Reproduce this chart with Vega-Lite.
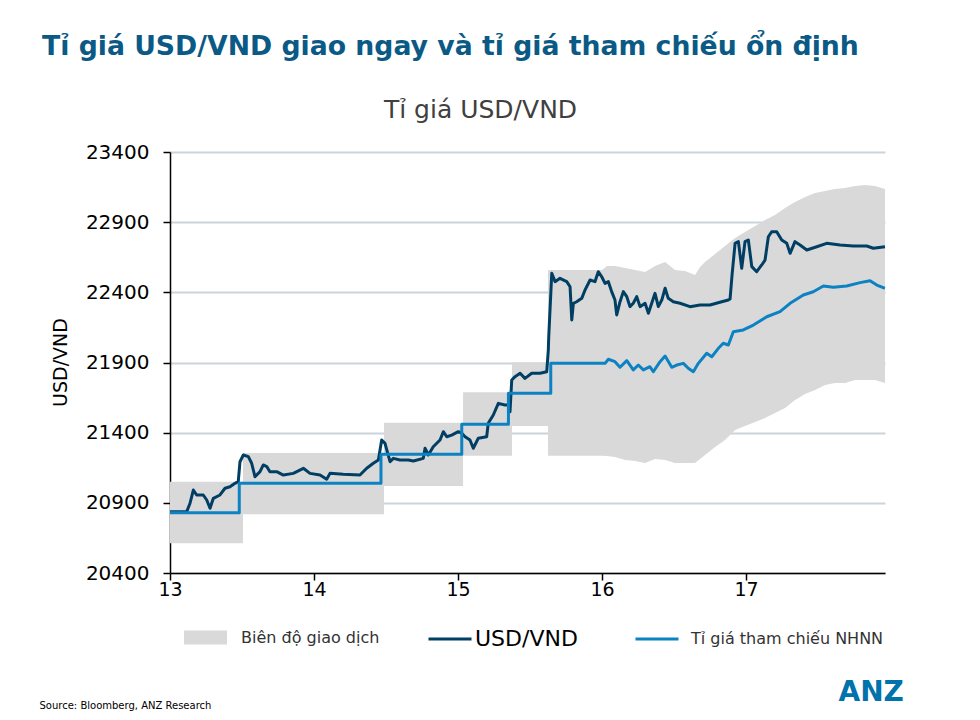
{
  "$schema": "https://vega.github.io/schema/vega-lite/v6.json",
  "width": 715,
  "height": 421,
  "autosize": {"type": "none"},
  "padding": {"left": 170, "top": 152, "right": 95, "bottom": 147},
  "background": "white",
  "title": {
    "text": "Tỉ giá USD/VND giao ngay và tỉ giá tham chiếu ổn định",
    "anchor": "start",
    "frame": "group",
    "dx": -128,
    "dy": -16,
    "fontSize": 26.7,
    "fontWeight": "bold",
    "color": "#0b5a86",
    "font": "DejaVu Sans",
    "offset": 20
  },
  "config": {
    "font": "DejaVu Sans",
    "view": {"stroke": null}
  },
  "datasets": {
    "band": [
      {"x": 13.0, "lo": 20612, "hi": 21051},
      {"x": 13.507, "lo": 20612, "hi": 21051},
      {"x": 13.507, "lo": 20818, "hi": 21255},
      {"x": 14.486, "lo": 20818, "hi": 21255},
      {"x": 14.486, "lo": 21020, "hi": 21471},
      {"x": 15.035, "lo": 21020, "hi": 21471},
      {"x": 15.035, "lo": 21236, "hi": 21688},
      {"x": 15.375, "lo": 21236, "hi": 21688},
      {"x": 15.375, "lo": 21447, "hi": 21901},
      {"x": 15.625, "lo": 21447, "hi": 21901},
      {"x": 15.625, "lo": 21236, "hi": 22559},
      {"x": 16.0, "lo": 21236, "hi": 22559},
      {"x": 16.035, "lo": 21234, "hi": 22588},
      {"x": 16.09, "lo": 21227, "hi": 22588},
      {"x": 16.16, "lo": 21205, "hi": 22573},
      {"x": 16.229, "lo": 21198, "hi": 22559},
      {"x": 16.299, "lo": 21184, "hi": 22545},
      {"x": 16.368, "lo": 21212, "hi": 22588},
      {"x": 16.438, "lo": 21205, "hi": 22616},
      {"x": 16.507, "lo": 21184, "hi": 22559},
      {"x": 16.576, "lo": 21184, "hi": 22552},
      {"x": 16.646, "lo": 21184, "hi": 22523},
      {"x": 16.681, "lo": 21212, "hi": 22580},
      {"x": 16.715, "lo": 21241, "hi": 22616},
      {"x": 16.785, "lo": 21298, "hi": 22673},
      {"x": 16.854, "lo": 21348, "hi": 22730},
      {"x": 16.924, "lo": 21419, "hi": 22787},
      {"x": 16.993, "lo": 21447, "hi": 22830},
      {"x": 17.063, "lo": 21476, "hi": 22873},
      {"x": 17.132, "lo": 21504, "hi": 22915},
      {"x": 17.201, "lo": 21540, "hi": 22951},
      {"x": 17.271, "lo": 21576, "hi": 23001},
      {"x": 17.34, "lo": 21633, "hi": 23044},
      {"x": 17.41, "lo": 21676, "hi": 23079},
      {"x": 17.479, "lo": 21704, "hi": 23108},
      {"x": 17.549, "lo": 21740, "hi": 23122},
      {"x": 17.618, "lo": 21754, "hi": 23136},
      {"x": 17.688, "lo": 21754, "hi": 23143},
      {"x": 17.757, "lo": 21775, "hi": 23158},
      {"x": 17.826, "lo": 21775, "hi": 23165},
      {"x": 17.896, "lo": 21775, "hi": 23158},
      {"x": 17.965, "lo": 21754, "hi": 23136}
    ],
    "ref": [
      {"x": 13.0, "v": 20830}, {"x": 13.481, "v": 20830}, {"x": 13.481, "v": 21039},
      {"x": 14.465, "v": 21039}, {"x": 14.465, "v": 21246}, {"x": 15.026, "v": 21246},
      {"x": 15.026, "v": 21460}, {"x": 15.35, "v": 21460}, {"x": 15.35, "v": 21680},
      {"x": 15.644, "v": 21680}, {"x": 15.644, "v": 21894}, {"x": 16.021, "v": 21894},
      {"x": 16.044, "v": 21923}, {"x": 16.09, "v": 21906}, {"x": 16.125, "v": 21866},
      {"x": 16.172, "v": 21913}, {"x": 16.217, "v": 21847}, {"x": 16.252, "v": 21882},
      {"x": 16.287, "v": 21847}, {"x": 16.333, "v": 21870}, {"x": 16.356, "v": 21834},
      {"x": 16.403, "v": 21906}, {"x": 16.438, "v": 21946}, {"x": 16.484, "v": 21866},
      {"x": 16.519, "v": 21882}, {"x": 16.565, "v": 21894}, {"x": 16.599, "v": 21859},
      {"x": 16.634, "v": 21834}, {"x": 16.669, "v": 21894}, {"x": 16.727, "v": 21966},
      {"x": 16.762, "v": 21941}, {"x": 16.808, "v": 22001}, {"x": 16.842, "v": 22037},
      {"x": 16.877, "v": 22025}, {"x": 16.912, "v": 22119}, {"x": 16.981, "v": 22132},
      {"x": 17.051, "v": 22167}, {"x": 17.144, "v": 22226}, {"x": 17.236, "v": 22262},
      {"x": 17.306, "v": 22322}, {"x": 17.398, "v": 22381}, {"x": 17.467, "v": 22404},
      {"x": 17.537, "v": 22445}, {"x": 17.606, "v": 22436}, {"x": 17.699, "v": 22445},
      {"x": 17.792, "v": 22469}, {"x": 17.861, "v": 22483}, {"x": 17.908, "v": 22452},
      {"x": 17.953, "v": 22433}, {"x": 17.965, "v": 22430}
    ],
    "spot": [
      {"x": 13.0, "v": 20837}, {"x": 13.116, "v": 20837}, {"x": 13.139, "v": 20897},
      {"x": 13.162, "v": 20991}, {"x": 13.185, "v": 20956}, {"x": 13.231, "v": 20956},
      {"x": 13.255, "v": 20920}, {"x": 13.278, "v": 20861}, {"x": 13.301, "v": 20932},
      {"x": 13.347, "v": 20956}, {"x": 13.382, "v": 21004}, {"x": 13.417, "v": 21015},
      {"x": 13.451, "v": 21039}, {"x": 13.474, "v": 21051}, {"x": 13.486, "v": 21193},
      {"x": 13.509, "v": 21241}, {"x": 13.544, "v": 21229}, {"x": 13.567, "v": 21182},
      {"x": 13.59, "v": 21086}, {"x": 13.625, "v": 21122}, {"x": 13.648, "v": 21170},
      {"x": 13.672, "v": 21158}, {"x": 13.694, "v": 21122}, {"x": 13.741, "v": 21122},
      {"x": 13.787, "v": 21098}, {"x": 13.856, "v": 21110}, {"x": 13.926, "v": 21146},
      {"x": 13.972, "v": 21110}, {"x": 14.042, "v": 21098}, {"x": 14.088, "v": 21068},
      {"x": 14.111, "v": 21110}, {"x": 14.203, "v": 21103}, {"x": 14.319, "v": 21098},
      {"x": 14.366, "v": 21146}, {"x": 14.412, "v": 21182}, {"x": 14.447, "v": 21205},
      {"x": 14.47, "v": 21348}, {"x": 14.493, "v": 21324}, {"x": 14.528, "v": 21193},
      {"x": 14.551, "v": 21217}, {"x": 14.597, "v": 21205}, {"x": 14.655, "v": 21205},
      {"x": 14.69, "v": 21198}, {"x": 14.759, "v": 21217}, {"x": 14.771, "v": 21289},
      {"x": 14.794, "v": 21241}, {"x": 14.828, "v": 21300}, {"x": 14.875, "v": 21348},
      {"x": 14.898, "v": 21407}, {"x": 14.922, "v": 21371}, {"x": 14.956, "v": 21383},
      {"x": 15.002, "v": 21407}, {"x": 15.026, "v": 21396}, {"x": 15.049, "v": 21371},
      {"x": 15.083, "v": 21348}, {"x": 15.106, "v": 21289}, {"x": 15.141, "v": 21360},
      {"x": 15.199, "v": 21371}, {"x": 15.21, "v": 21467}, {"x": 15.245, "v": 21526},
      {"x": 15.28, "v": 21609}, {"x": 15.326, "v": 21597}, {"x": 15.349, "v": 21597},
      {"x": 15.361, "v": 21549}, {"x": 15.373, "v": 21775}, {"x": 15.396, "v": 21799},
      {"x": 15.431, "v": 21823}, {"x": 15.465, "v": 21787}, {"x": 15.512, "v": 21823},
      {"x": 15.569, "v": 21823}, {"x": 15.616, "v": 21834}, {"x": 15.627, "v": 21989},
      {"x": 15.63, "v": 22084}, {"x": 15.651, "v": 22536}, {"x": 15.674, "v": 22476},
      {"x": 15.708, "v": 22500}, {"x": 15.755, "v": 22476}, {"x": 15.778, "v": 22440},
      {"x": 15.79, "v": 22203}, {"x": 15.801, "v": 22322}, {"x": 15.824, "v": 22333},
      {"x": 15.859, "v": 22357}, {"x": 15.882, "v": 22417}, {"x": 15.917, "v": 22488},
      {"x": 15.951, "v": 22476}, {"x": 15.974, "v": 22547}, {"x": 15.998, "v": 22511},
      {"x": 16.021, "v": 22464}, {"x": 16.044, "v": 22476}, {"x": 16.067, "v": 22405},
      {"x": 16.09, "v": 22345}, {"x": 16.102, "v": 22239}, {"x": 16.125, "v": 22333},
      {"x": 16.148, "v": 22405}, {"x": 16.172, "v": 22369}, {"x": 16.194, "v": 22298},
      {"x": 16.217, "v": 22322}, {"x": 16.241, "v": 22369}, {"x": 16.264, "v": 22298},
      {"x": 16.299, "v": 22322}, {"x": 16.322, "v": 22251}, {"x": 16.345, "v": 22322},
      {"x": 16.368, "v": 22393}, {"x": 16.391, "v": 22298}, {"x": 16.415, "v": 22345},
      {"x": 16.438, "v": 22429}, {"x": 16.46, "v": 22357}, {"x": 16.495, "v": 22333},
      {"x": 16.542, "v": 22322}, {"x": 16.611, "v": 22298}, {"x": 16.681, "v": 22310},
      {"x": 16.75, "v": 22310}, {"x": 16.831, "v": 22333}, {"x": 16.877, "v": 22345},
      {"x": 16.889, "v": 22352}, {"x": 16.903, "v": 22524}, {"x": 16.924, "v": 22749},
      {"x": 16.947, "v": 22761}, {"x": 16.97, "v": 22571}, {"x": 16.993, "v": 22761},
      {"x": 17.016, "v": 22773}, {"x": 17.04, "v": 22583}, {"x": 17.074, "v": 22547},
      {"x": 17.109, "v": 22595}, {"x": 17.132, "v": 22630}, {"x": 17.155, "v": 22796},
      {"x": 17.178, "v": 22832}, {"x": 17.213, "v": 22832}, {"x": 17.248, "v": 22773},
      {"x": 17.283, "v": 22749}, {"x": 17.306, "v": 22678}, {"x": 17.34, "v": 22761},
      {"x": 17.375, "v": 22737}, {"x": 17.422, "v": 22702}, {"x": 17.491, "v": 22725},
      {"x": 17.56, "v": 22749}, {"x": 17.653, "v": 22737}, {"x": 17.745, "v": 22730},
      {"x": 17.838, "v": 22730}, {"x": 17.884, "v": 22714}, {"x": 17.965, "v": 22725}
    ]
  },
  "resolve": {"axis": {"x": "independent", "y": "independent"}},
  "layer": [
    {
      "data": {"name": "band"},
      "mark": {"type": "area", "opacity": 1, "interpolate": "linear"},
      "encoding": {
        "x": {
          "field": "x", "type": "quantitative",
          "scale": {"domain": [13, 17.965], "nice": false, "zero": false},
          "axis": {
            "orient": "bottom",
            "values": [13, 14, 15, 16, 17],
            "format": "d",
            "grid": false,
            "labelFlush": false,
            "labelOverlap": false,
            "domainColor": "#000000",
            "domainWidth": 1.5,
            "tickColor": "#000000",
            "tickWidth": 1.5,
            "tickSize": 7,
            "labelPadding": 0,
            "labelFontSize": 19,
            "labelColor": "#000000",
            "labelFont": "DejaVu Sans",
            "title": "Source: Bloomberg, ANZ Research",
            "titleFont": "DejaVu Sans",
            "titleFontSize": 10,
            "titleFontWeight": "normal",
            "titleColor": "#000000",
            "titleAlign": "left",
            "titleBaseline": "alphabetic",
            "titleAnchor": null,
            "titleX": -131,
            "titleY": 135
          }
        },
        "y": {
          "field": "lo", "type": "quantitative",
          "scale": {"domain": [20400, 23400], "nice": false, "zero": false},
          "axis": {
            "orient": "left",
            "values": [20400, 20900, 21400, 21900, 22400, 22900, 23400],
            "format": "d",
            "grid": true,
            "gridColor": "#c9d4dc",
            "gridWidth": 2,
            "labelFlush": false,
            "domainColor": "#000000",
            "domainWidth": 1.5,
            "tickColor": "#000000",
            "tickWidth": 1.5,
            "tickSize": 7,
            "labelPadding": 14,
            "labelFontSize": 20,
            "labelColor": "#000000",
            "labelFont": "DejaVu Sans",
            "title": "USD/VND",
            "titleFont": "DejaVu Sans",
            "titleFontSize": 19,
            "titleFontWeight": "normal",
            "titleColor": "#000000",
            "titleAngle": -90,
            "titleAlign": "center",
            "titleBaseline": "bottom",
            "titleX": -100,
            "titleY": 210
          }
        },
        "y2": {"field": "hi"},
        "fill": {
          "datum": "Biên độ giao dịch",
          "type": "nominal",
          "scale": {"range": ["#d9d9d9"]},
          "legend": {
            "title": null,
            "orient": "none",
            "legendX": 14,
            "legendY": 464,
            "padding": 0,
            "labelOffset": 14,
            "labelFont": "DejaVu Sans",
            "labelFontSize": 16,
            "labelColor": "#333333",
            "labelLimit": 400,
            "symbolType": "M-1,-0.33H1V0.33H-1Z",
            "symbolSize": 1849,
            "symbolOpacity": 1,
            "symbolStrokeWidth": 0
          }
        }
      }
    },
    {
      "data": {"name": "spot"},
      "mark": {"type": "line", "strokeWidth": 3, "strokeJoin": "round", "interpolate": "linear"},
      "encoding": {
        "x": {
          "field": "x", "type": "quantitative",
          "axis": {
            "orient": "top",
            "labels": false,
            "ticks": false,
            "domain": false,
            "grid": false,
            "title": "Tỉ giá USD/VND",
            "titleFont": "DejaVu Sans",
            "titleFontSize": 25,
            "titleFontWeight": "normal",
            "titleColor": "#404040",
            "titleAlign": "center",
            "titleBaseline": "alphabetic",
            "titleAnchor": null,
            "titleX": 310,
            "titleY": -35
          }
        },
        "y": {
          "field": "v", "type": "quantitative",
          "axis": {
            "orient": "right",
            "labels": false,
            "ticks": false,
            "domain": false,
            "grid": false,
            "title": "ANZ",
            "titleFont": "DejaVu Sans",
            "titleFontSize": 28,
            "titleFontWeight": "bold",
            "titleColor": "#0072ac",
            "titleAngle": 0,
            "titleAlign": "left",
            "titleBaseline": "alphabetic",
            "titleAnchor": null,
            "titleX": -47,
            "titleY": 548
          }
        },
        "stroke": {
          "datum": "USD/VND",
          "type": "nominal",
          "scale": {"range": ["#003f63"]},
          "legend": {
            "title": null,
            "orient": "none",
            "legendX": 257,
            "legendY": 464,
            "padding": 0,
            "labelOffset": 2,
            "labelFont": "DejaVu Sans",
            "labelFontSize": 22,
            "labelColor": "#000000",
            "labelLimit": 400,
            "symbolType": "stroke",
            "symbolSize": 1849,
            "symbolStrokeWidth": 3
          }
        }
      }
    },
    {
      "data": {"name": "ref"},
      "mark": {"type": "line", "strokeWidth": 3, "strokeJoin": "round", "interpolate": "linear"},
      "encoding": {
        "x": {"field": "x", "type": "quantitative", "axis": null},
        "y": {"field": "v", "type": "quantitative", "axis": null},
        "color": {
          "datum": "Tỉ giá tham chiếu NHNN",
          "type": "nominal",
          "scale": {"range": ["#0d82c3"]},
          "legend": {
            "title": null,
            "orient": "none",
            "legendX": 464,
            "legendY": 464,
            "padding": 0,
            "labelOffset": 11,
            "labelFont": "DejaVu Sans",
            "labelFontSize": 16,
            "labelColor": "#333333",
            "labelLimit": 400,
            "symbolType": "stroke",
            "symbolSize": 1849,
            "symbolStrokeWidth": 3
          }
        }
      }
    }
  ]
}
